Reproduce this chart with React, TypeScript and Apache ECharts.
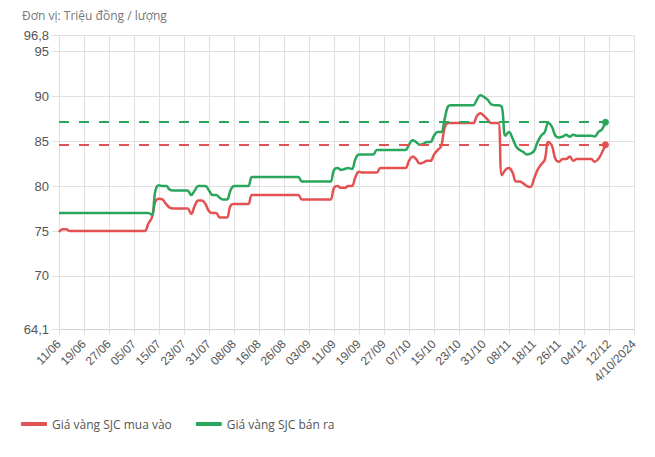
import React, { useEffect, useRef } from 'react';
import * as echarts from 'echarts';

const tickLabels = [
  '11/06', '19/06', '27/06', '05/07', '15/07', '23/07', '31/07', '08/08',
  '16/08', '26/08', '03/09', '11/09', '19/09', '27/09', '07/10', '15/10',
  '23/10', '31/10', '08/11', '18/11', '26/11', '04/12', '12/12', '4/10/2024',
];
const pointsPerLabel = 7;

const yTicks = [64.1, 70, 75, 80, 85, 90, 95, 96.8];

const buyPrices = [
  74.9, 75.2, 75.2, 75.0, 75.0, 75.0, 75.0, 75.0, 75.0, 75.0,
  75.0, 75.0, 75.0, 75.0, 75.0, 75.0, 75.0, 75.0, 75.0, 75.0,
  75.0, 75.0, 75.0, 75.0, 75.0, 75.8, 76.5, 78.3, 78.6, 78.5,
  78.0, 77.6, 77.5, 77.5, 77.5, 77.5, 77.5, 76.9, 77.8, 78.4,
  78.4, 78.0, 77.2, 77.0, 77.0, 76.5, 76.5, 76.5, 77.8, 78.0,
  78.0, 78.0, 78.0, 78.0, 79.0, 79.0, 79.0, 79.0, 79.0, 79.0,
  79.0, 79.0, 79.0, 79.0, 79.0, 79.0, 79.0, 79.0, 78.5, 78.5,
  78.5, 78.5, 78.5, 78.5, 78.5, 78.5, 78.5, 79.8, 80.0, 79.8,
  79.8, 80.0, 80.0, 81.0, 81.6, 81.5, 81.5, 81.5, 81.5, 81.5,
  82.0, 82.0, 82.0, 82.0, 82.0, 82.0, 82.0, 82.0, 82.8, 83.3,
  83.0, 82.5, 82.6, 82.8, 82.8, 83.5, 84.0, 84.4, 86.5, 87.0,
  87.0, 87.0, 87.0, 87.0, 87.0, 87.0, 87.0, 87.8, 88.1, 87.8,
  87.4, 87.0, 87.0, 87.0, 81.2, 81.8, 82.0, 81.5, 80.5, 80.5,
  80.3, 80.0, 79.9, 80.8, 81.8, 82.4, 82.9, 84.9, 84.5, 83.0,
  82.7, 83.0, 83.0, 83.3, 82.8, 83.0, 83.0, 83.0, 83.0, 83.0,
  82.7, 83.0, 83.7, 84.6,
];

const sellPrices = [
  77.0, 77.0, 77.0, 77.0, 77.0, 77.0, 77.0, 77.0, 77.0, 77.0,
  77.0, 77.0, 77.0, 77.0, 77.0, 77.0, 77.0, 77.0, 77.0, 77.0,
  77.0, 77.0, 77.0, 77.0, 77.0, 77.0, 76.8, 79.5, 80.1, 80.0,
  80.0, 79.6, 79.5, 79.5, 79.5, 79.5, 79.5, 79.0, 79.5, 80.0,
  80.0, 80.0, 79.5, 79.0, 79.0, 78.7, 78.5, 78.5, 79.5, 80.0,
  80.0, 80.0, 80.0, 80.0, 81.0, 81.0, 81.0, 81.0, 81.0, 81.0,
  81.0, 81.0, 81.0, 81.0, 81.0, 81.0, 81.0, 81.0, 80.5, 80.5,
  80.5, 80.5, 80.5, 80.5, 80.5, 80.5, 80.5, 81.8, 82.0, 81.8,
  81.9, 82.0, 81.9, 83.0, 83.5, 83.5, 83.5, 83.5, 83.5, 84.0,
  84.0, 84.0, 84.0, 84.0, 84.0, 84.0, 84.0, 84.0, 84.6, 85.1,
  84.9, 84.6, 84.7, 84.9, 84.9, 85.6, 86.0, 86.0, 87.5, 88.9,
  89.0, 89.0, 89.0, 89.0, 89.0, 89.0, 89.0, 89.6, 90.1, 89.9,
  89.6, 89.1, 89.0, 89.0, 88.8, 85.6, 86.0, 85.3, 84.4, 84.0,
  83.8, 83.5, 83.6, 83.9, 84.9, 85.6, 86.0, 87.0, 86.6, 85.6,
  85.4, 85.5, 85.7, 85.5, 85.7, 85.6, 85.6, 85.6, 85.6, 85.6,
  85.5, 86.0, 86.3, 87.1,
];

const BUY_COLOR = '#e35252';
const SELL_COLOR = '#2aa65c';
const GRID_COLOR = '#e0e0e0';

export default function App() {
  const ref = useRef<HTMLDivElement>(null);

  useEffect(() => {
    if (!ref.current) return;
    const chart = echarts.init(ref.current, undefined, { renderer: 'svg' });

    const categories: string[] = [];
    tickLabels.forEach((l, i) => {
      categories.push(l);
      if (i < tickLabels.length - 1) {
        for (let k = 1; k < pointsPerLabel; k++) categories.push('');
      }
    });

    const makeSeries = (name: string, data: number[], color: string) => {
      const lastIdx = data.length - 1;
      const lastVal = data[lastIdx];
      return {
        name,
        type: 'line',
        data,
        smooth: 0.4,
        showSymbol: false,
        symbol: 'none',
        lineStyle: { color, width: 2.5 },
        itemStyle: { color },
        markLine: {
          silent: true,
          symbol: ['none', 'none'],
          label: { show: false },
          lineStyle: { color, width: 2, type: [10, 10] },
          data: [[{ coord: [0, lastVal] }, { coord: [lastIdx, lastVal] }]],
        },
        markPoint: {
          silent: true,
          symbol: 'circle',
          symbolSize: 7,
          label: { show: false },
          itemStyle: { color },
          data: [{ coord: [lastIdx, lastVal] }],
        },
      };
    };

    chart.setOption({
      animation: false,
      title: {
        text: 'Đơn vị: Triệu đồng / lượng',
        left: 22,
        top: 9,
        padding: 0,
        textStyle: {
          fontFamily: 'Open Sans',
          fontSize: 12,
          fontWeight: 'normal',
          color: '#777',
        },
      },
      legend: {
        left: 16,
        top: 413,
        icon: 'roundRect',
        itemWidth: 26,
        itemHeight: 4,
        itemGap: 24,
        textStyle: { fontFamily: 'Open Sans', fontSize: 12, color: '#555' },
        data: ['Giá vàng SJC mua vào', 'Giá vàng SJC bán ra'],
      },
      grid: { left: 59, right: 21, top: 35, bottom: 128, containLabel: false },
      xAxis: {
        type: 'category',
        boundaryGap: false,
        data: categories,
        axisLine: { lineStyle: { color: '#d0d0d0' } },
        axisTick: { show: true, interval: pointsPerLabel - 1, length: 6, lineStyle: { color: GRID_COLOR } },
        axisLabel: {
          interval: pointsPerLabel - 1,
          rotate: 45,
          margin: 13,
          fontFamily: 'Liberation Sans',
          fontSize: 12,
          color: '#555',
        },
        splitLine: { show: true, interval: pointsPerLabel - 1, lineStyle: { color: GRID_COLOR } },
      },
      yAxis: {
        type: 'value',
        min: yTicks[0],
        max: yTicks[yTicks.length - 1],
        axisLine: { show: false },
        axisTick: { show: true, length: 7, customValues: yTicks, lineStyle: { color: GRID_COLOR } },
        axisLabel: {
          customValues: yTicks,
          margin: 10,
          fontFamily: 'Liberation Sans',
          fontSize: 13,
          color: '#555',
          formatter: (v: number) => String(v).replace('.', ','),
        },
        splitLine: { show: true, lineStyle: { color: GRID_COLOR } },
      },
      series: [
        makeSeries('Giá vàng SJC mua vào', buyPrices, BUY_COLOR),
        makeSeries('Giá vàng SJC bán ra', sellPrices, SELL_COLOR),
      ],
    });

    return () => chart.dispose();
  }, []);

  return (
    <div
      ref={ref}
      style={{ position: 'absolute', left: 0, top: 0, width: 655, height: 457 }}
    />
  );
}
